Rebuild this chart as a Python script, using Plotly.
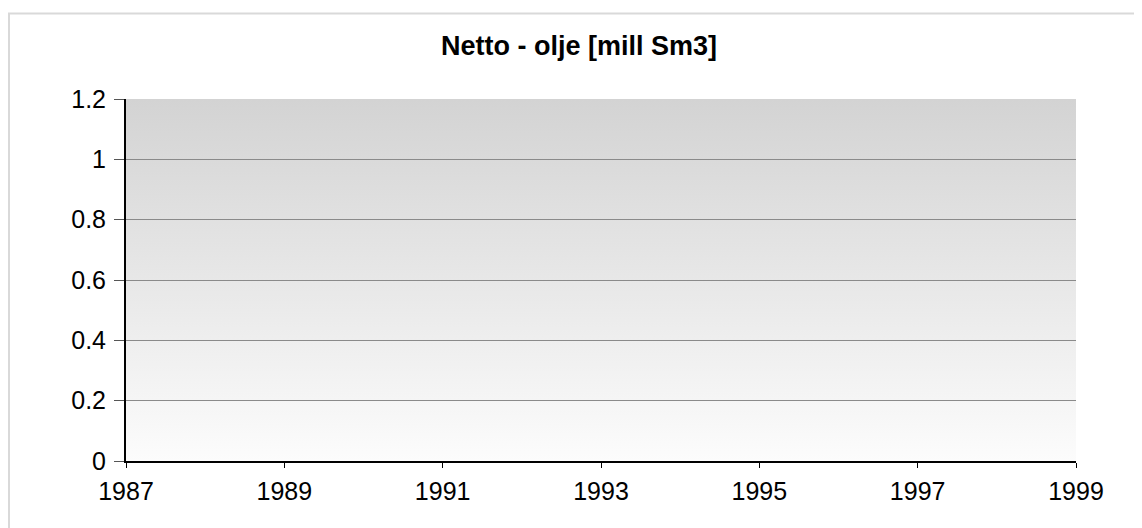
import plotly.graph_objects as go

title_text = "Netto - olje [mill Sm3]"
years = [1987, 1989, 1991, 1993, 1995, 1997, 1999]
y_ticks = [0, 0.2, 0.4, 0.6, 0.8, 1.0, 1.2]
y_labels = ["0", "0.2", "0.4", "0.6", "0.8", "1", "1.2"]
net_oil = []  # no production values plotted

W, H = 1142, 528
L, R, T, B = 118, 74, 91, 75
pw, ph = W - L - R, H - T - B

def px_x(p):
    return (p - L) / pw

def px_y(p):
    return (H - B - p) / ph

svg = ("data:image/svg+xml;utf8,"
       "<svg xmlns='http://www.w3.org/2000/svg' width='10' height='100' preserveAspectRatio='none'>"
       "<defs><linearGradient id='g' x1='0' y1='0' x2='0' y2='1'>"
       "<stop offset='0' stop-color='%23d3d3d3'/><stop offset='1' stop-color='%23fcfcfc'/>"
       "</linearGradient></defs><rect width='10' height='100' fill='url(%23g)'/></svg>")

fig = go.Figure()
fig.add_trace(go.Scatter(x=[years[i] for i in range(len(net_oil))], y=net_oil,
                         mode="lines", showlegend=False, hoverinfo="skip"))

fig.update_layout(
    width=W, height=H,
    margin=dict(l=L, r=R, t=T, b=B),
    paper_bgcolor="white",
    plot_bgcolor="rgba(0,0,0,0)",
    font=dict(family="Liberation Sans, Arial, sans-serif", size=25, color="black"),
    title=dict(text="<b>" + title_text + "</b>", x=0.5, xanchor="center",
               y=1 - 38 / H, yanchor="middle", font=dict(size=27)),
    showlegend=False,
    images=[dict(source=svg, xref="paper", yref="paper", x=0, y=1, sizex=1, sizey=1,
                 sizing="stretch", xanchor="left", yanchor="top", layer="below")],
    shapes=[
        dict(type="line", xref="paper", yref="paper", x0=px_x(0), x1=px_x(1300),
             y0=px_y(5.5), y1=px_y(5.5), line=dict(color="#d9d9d9", width=2)),
        dict(type="line", xref="paper", yref="paper", x0=px_x(1), x1=px_x(1),
             y0=px_y(5.5), y1=px_y(700), line=dict(color="#d9d9d9", width=2)),
    ],
)

fig.update_xaxes(
    range=[years[0], years[-1]], tickmode="array", tickvals=years,
    ticktext=[str(y) for y in years],
    showgrid=False, zeroline=False,
    showline=True, linecolor="black", linewidth=2,
    ticks="outside", ticklen=5, tickcolor="black", tickwidth=1,
    ticklabelstandoff=2,
    fixedrange=True,
)
fig.update_yaxes(
    range=[0, 1.2], tickmode="array", tickvals=y_ticks, ticktext=y_labels,
    showgrid=True, gridcolor="#8a8a8a", gridwidth=1, zeroline=False,
    showline=True, linecolor="black", linewidth=2,
    ticks="outside", ticklen=10, tickcolor="#555555", tickwidth=1,
    ticklabelstandoff=3,
    fixedrange=True,
)

fig.write_html("out.html")
